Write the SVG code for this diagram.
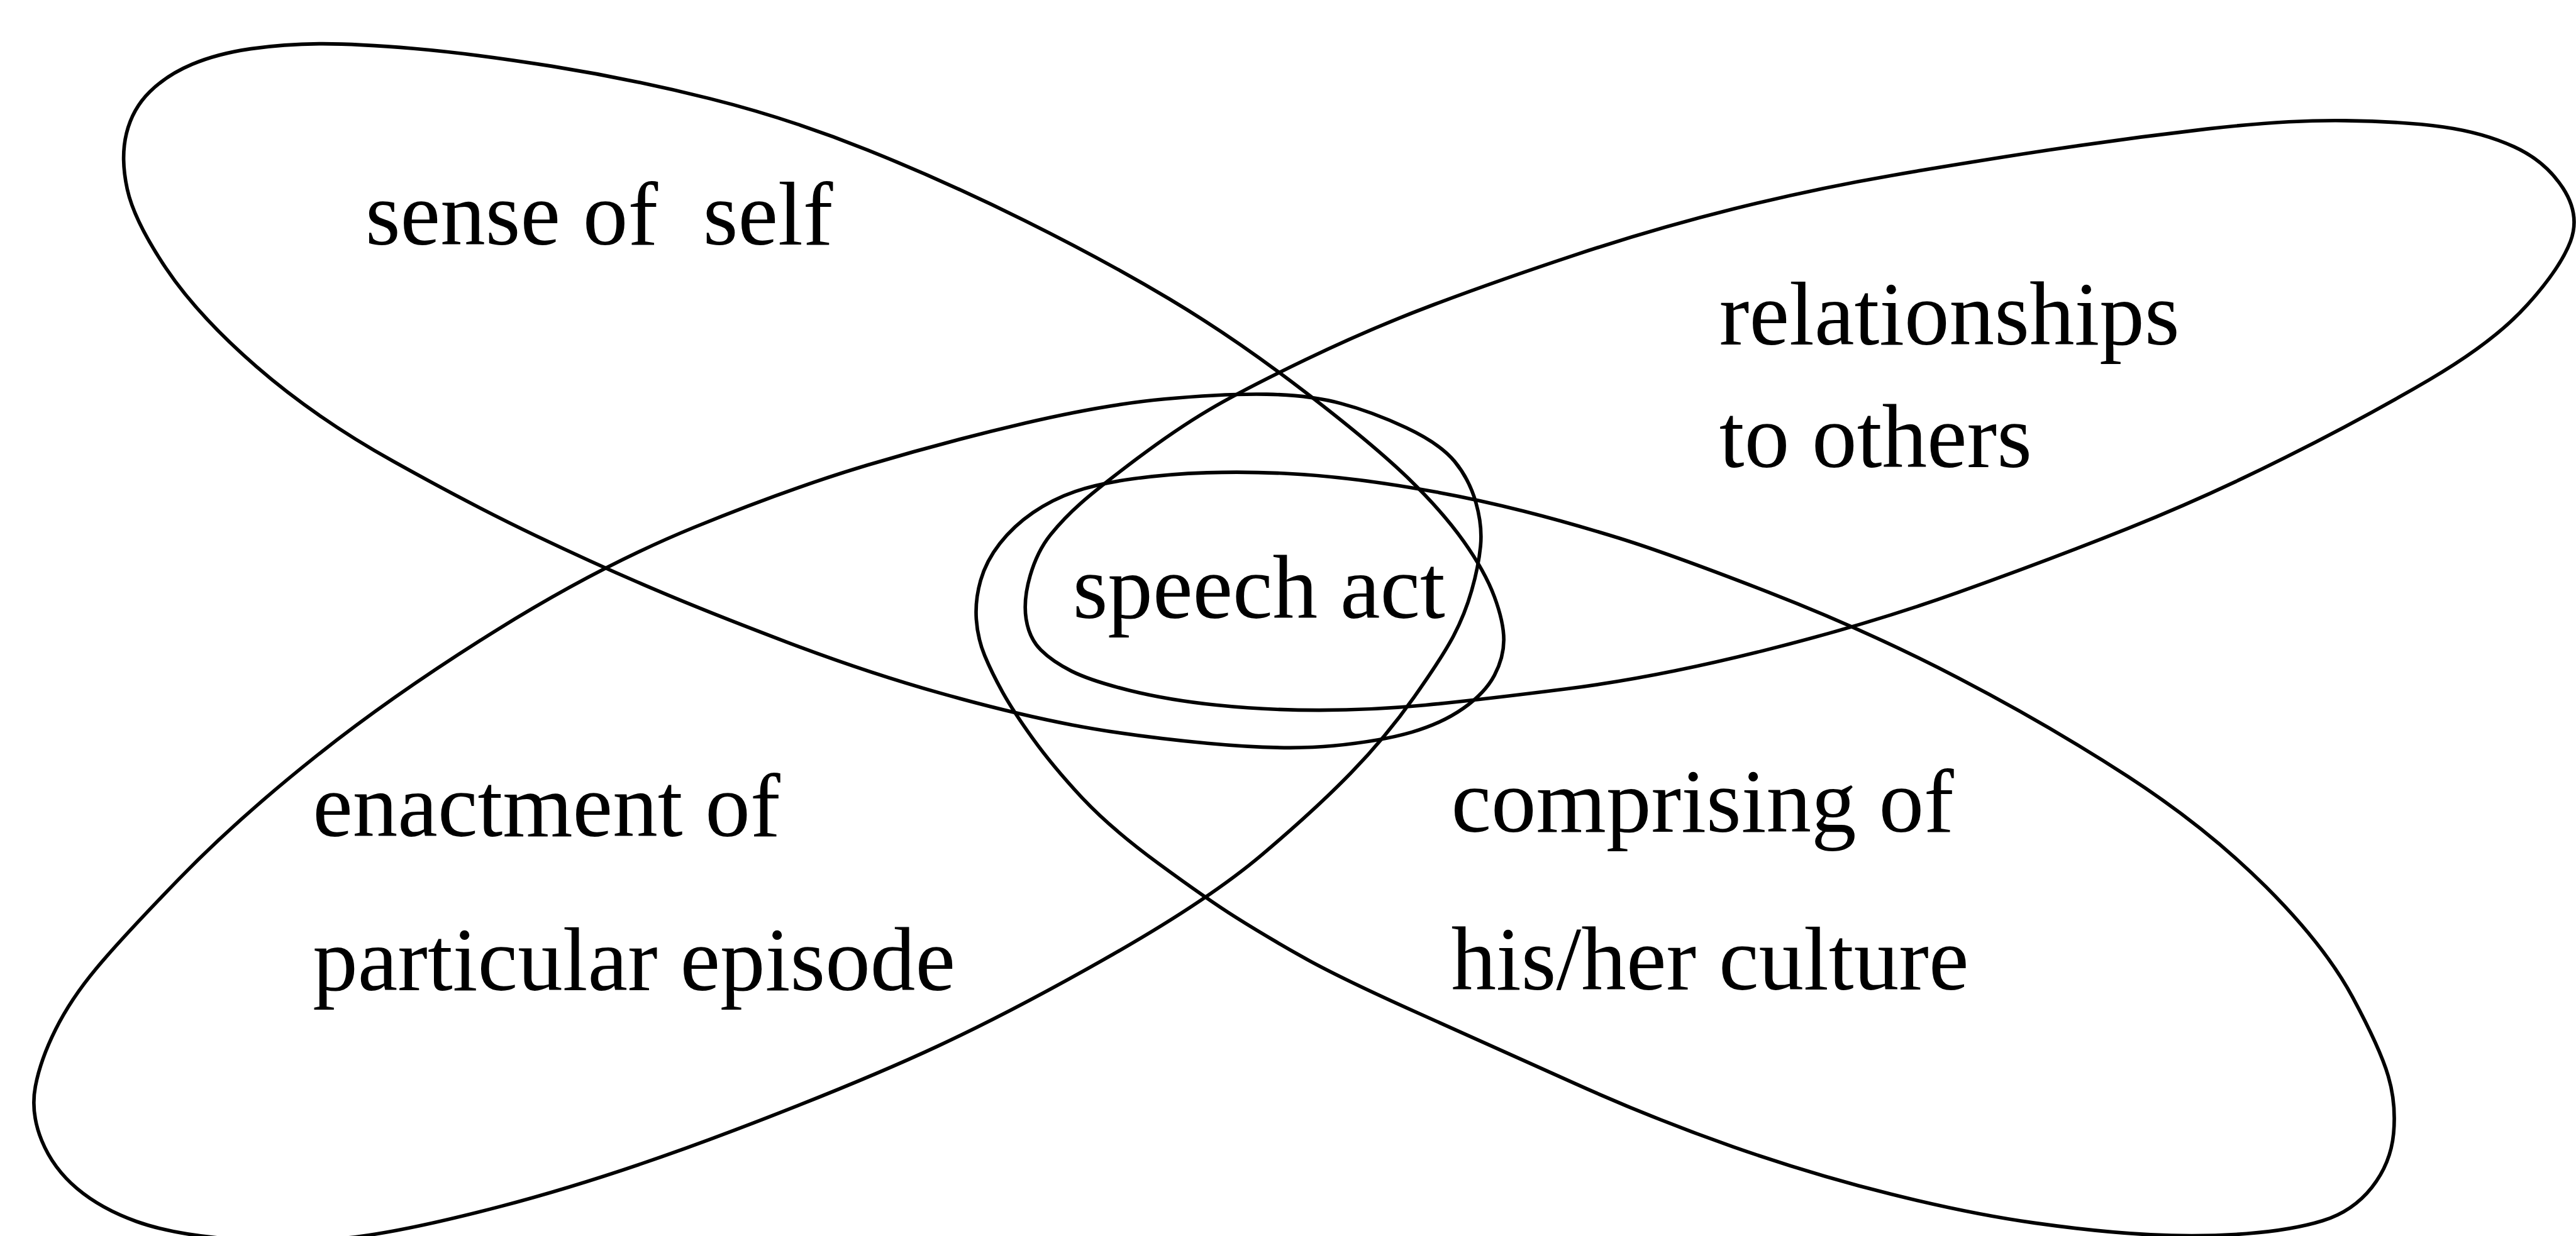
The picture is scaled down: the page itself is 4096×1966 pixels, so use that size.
<svg xmlns="http://www.w3.org/2000/svg" width="4096" height="1966" viewBox="0 0 4096 1966">
  <style>
    .ring { fill: none; stroke: #000; stroke-width: 7; stroke-linejoin: round; }
    .label { font-family: "Liberation Serif", "Times New Roman", serif; font-size: 178px; fill: #000; white-space: pre; }
  </style>
  <rect width="4096" height="1966" fill="#fff"/>
  <!-- drawn in 5091 x 2444 units, scaled to the window -->
  <g transform="scale(0.80455)">
    <g id="sense-of-self">
      <path class="ring" d="M 251.5 374 Q 238 312 250 263.5 Q 262 215 296 181.5 Q 330 148 380 127 Q 430 106 495.5 96.5 Q 561 87 631 86.5 Q 701 86 818 96 Q 935 106 1091 131 Q 1247 156 1403 195 Q 1559 234 1714.5 296.5 Q 1870 359 2026 436.5 Q 2182 514 2311 591 Q 2440 668 2576 772.5 Q 2712 877 2781 943.5 Q 2850 1010 2892.5 1070 Q 2935 1130 2953.5 1180 Q 2972 1230 2972 1265 Q 2972 1300 2953.5 1335 Q 2935 1370 2892.5 1400 Q 2850 1430 2790 1447.5 Q 2730 1465 2634.5 1474.5 Q 2539 1484 2386 1469.5 Q 2233 1455 2118 1433 Q 2003 1411 1859 1370.5 Q 1715 1330 1559 1271 Q 1403 1212 1294 1165.5 Q 1185 1119 1060 1059.5 Q 935 1000 779 913 Q 623 826 506.5 724.5 Q 390 623 327.5 529.5 Q 265 436 251.5 374 Z"/>
      <text class="label" x="722" y="483">sense of  self</text>
    </g>
    <g id="relationships">
      <path class="ring" d="M 2028 1224 Q 2022 1186 2036 1138 Q 2050 1090 2076 1057.5 Q 2102 1025 2136.5 994.5 Q 2171 964 2247.5 906.5 Q 2324 849 2389 810.5 Q 2454 772 2580.5 711 Q 2707 650 2833 602.5 Q 2959 555 3114.5 503.5 Q 3270 452 3426 413 Q 3582 374 3738 347 Q 3894 320 4050 296.5 Q 4206 273 4361.5 255 Q 4517 237 4634 238.5 Q 4751 240 4829 251 Q 4907 262 4968.5 290 Q 5030 318 5065 371.5 Q 5100 425 5080 477.5 Q 5060 530 4995 602.5 Q 4930 675 4801.5 750.5 Q 4673 826 4517.5 904 Q 4362 982 4206 1044.5 Q 4050 1107 3870.5 1171 Q 3691 1235 3480.5 1287.5 Q 3270 1340 3095.5 1362 Q 2921 1384 2817.5 1394 Q 2714 1404 2607 1404 Q 2500 1404 2404.5 1394 Q 2309 1384 2232.5 1365 Q 2156 1346 2118 1327 Q 2080 1308 2057 1285 Q 2034 1262 2028 1224 Z"/>
      <text class="label" x="3398" y="681">relationships</text>
      <text class="label" x="3398" y="924">to others</text>
    </g>
    <g id="enactment">
      <path class="ring" d="M 82.5 2255 Q 60 2200 70 2147.5 Q 80 2095 110 2035 Q 140 1975 190 1915 Q 240 1855 354 1737.5 Q 468 1620 623.5 1496 Q 779 1372 982 1245.5 Q 1185 1119 1372 1042.5 Q 1559 966 1714.5 919.5 Q 1870 873 2026 836.5 Q 2182 800 2301 789 Q 2420 778 2503.5 779.5 Q 2587 781 2649.5 797.5 Q 2712 814 2779 845.5 Q 2846 877 2875 912.5 Q 2904 948 2917 994 Q 2930 1040 2926 1080 Q 2922 1120 2908.5 1167.5 Q 2895 1215 2872.5 1257.5 Q 2850 1300 2794.5 1378.5 Q 2739 1457 2669.5 1528.5 Q 2600 1600 2495 1689 Q 2390 1778 2200 1886.5 Q 2010 1995 1855 2067.5 Q 1700 2140 1450 2235 Q 1200 2330 989.5 2385 Q 779 2440 669.5 2449 Q 560 2458 450 2449 Q 340 2440 270 2415 Q 200 2390 152.5 2350 Q 105 2310 82.5 2255 Z"/>
      <text class="label" x="618" y="1653">enactment of</text>
      <text class="label" x="618" y="1958">particular episode</text>
    </g>
    <g id="culture">
      <path class="ring" d="M 1929.5 1224 Q 1927 1186 1938 1147.5 Q 1949 1109 1976 1074.5 Q 2003 1040 2041.5 1013.5 Q 2080 987 2125.5 971.5 Q 2171 956 2240 946.5 Q 2309 937 2385.5 934.5 Q 2462 932 2538.5 936 Q 2615 940 2686 949 Q 2757 958 2839.5 973 Q 2922 988 3011 1010.5 Q 3100 1033 3200 1064 Q 3300 1095 3495.5 1171 Q 3691 1247 3870.5 1340.5 Q 4050 1434 4206 1535.5 Q 4362 1637 4478.5 1753.5 Q 4595 1870 4649.5 1971.5 Q 4704 2073 4720 2127.5 Q 4736 2182 4730.5 2241 Q 4725 2300 4687.5 2347.5 Q 4650 2395 4590 2413.5 Q 4530 2432 4440 2439 Q 4350 2446 4250 2441 Q 4150 2436 4022 2418 Q 3894 2400 3738 2361 Q 3582 2322 3426 2267.5 Q 3270 2213 3114.5 2143 Q 2959 2073 2803 2003 Q 2647 1933 2573.5 1891.5 Q 2500 1850 2443 1814 Q 2386 1778 2290 1707.5 Q 2194 1637 2137 1575.5 Q 2080 1514 2041.5 1460.5 Q 2003 1407 1981.5 1368.5 Q 1960 1330 1946 1296 Q 1932 1262 1929.5 1224 Z"/>
      <text class="label" x="2868" y="1644">comprising of</text>
      <text class="label" x="2868" y="1956">his/her culture</text>
    </g>
    <g id="speech-act">
      <text class="label" x="2120" y="1222">speech act</text>
    </g>
  </g>
</svg>
